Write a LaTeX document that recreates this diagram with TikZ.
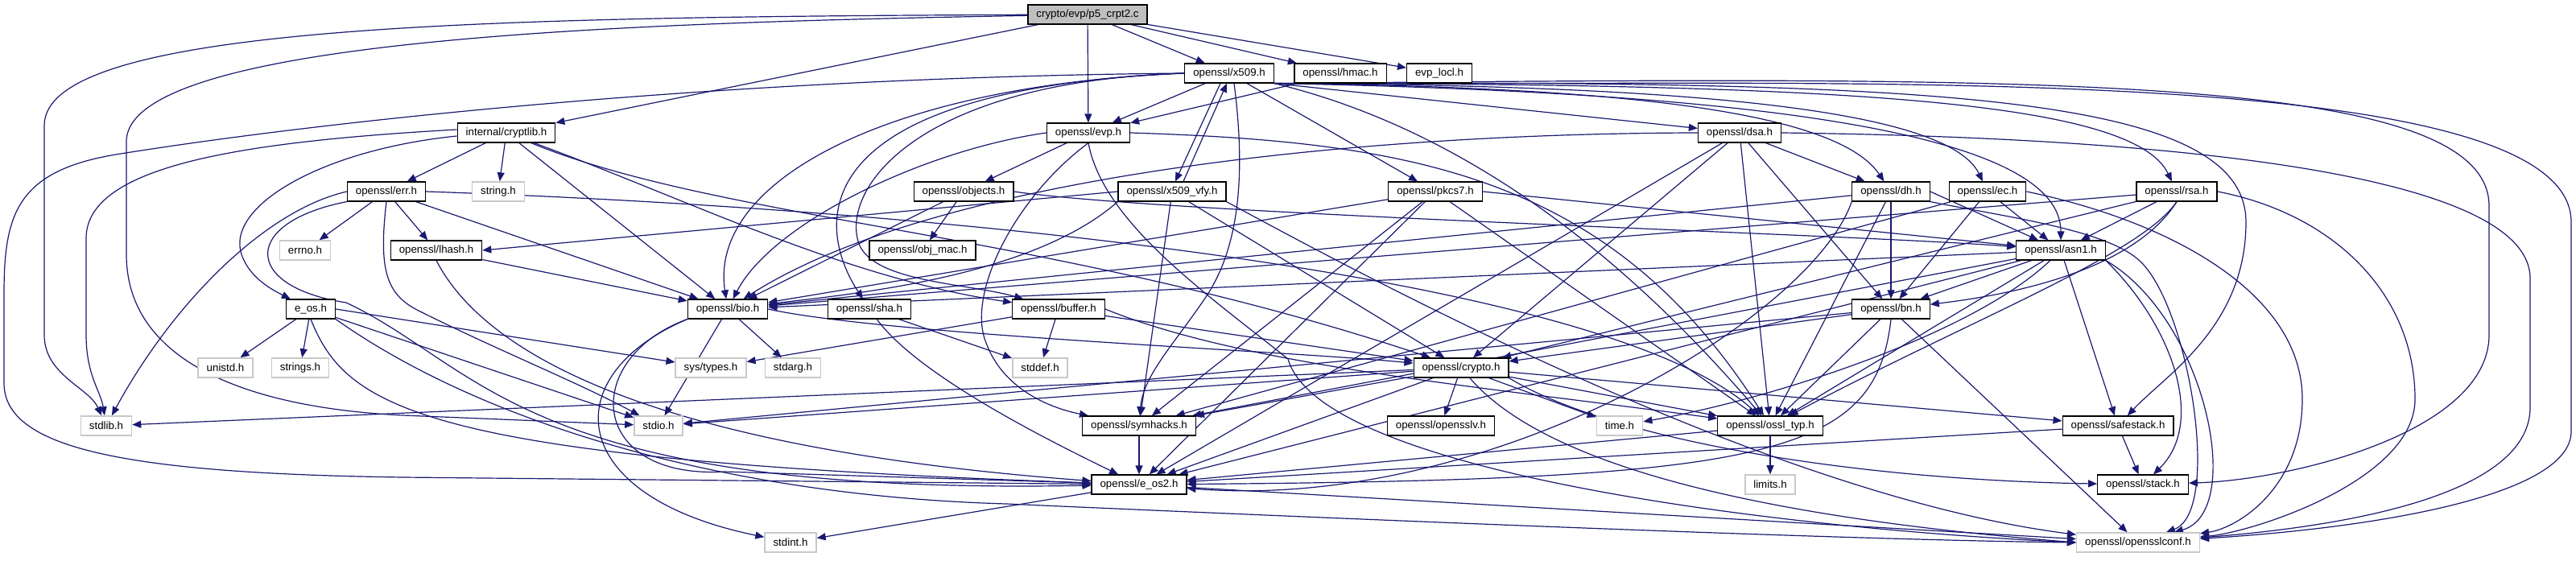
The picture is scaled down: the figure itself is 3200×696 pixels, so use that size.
\documentclass[tikz,border=0pt]{standalone}
\usepackage{fontspec}
\setmainfont{Liberation Sans}
\usetikzlibrary{arrows.meta}
\definecolor{edgeblue}{RGB}{25,25,112}
\definecolor{boxgray}{RGB}{191,191,191}
\definecolor{sysgray}{RGB}{200,200,200}
\pgfdeclarelayer{bg}
\pgfsetlayers{bg,main}
\tikzset{
  hdr/.style={draw=black,line width=1.2pt,fill=white,rectangle,minimum height=24pt,inner xsep=10.5pt,inner ysep=0pt,font=\fontsize{13.3}{16}\selectfont},
  syshdr/.style={hdr,draw=sysgray,line width=1.5pt},
  srcfile/.style={hdr,fill=boxgray},
  dep/.style={draw=edgeblue,line width=1.2pt,-{Triangle[length=11pt,width=9pt]}}
}
\begin{document}
\begin{tikzpicture}[x=1pt,y=1pt]
\useasboundingbox (0,0) rectangle (3200,696);
\node[srcfile] (p5) at (1351,678) {crypto/evp/p5\_crpt2.c};
\node[hdr] (x509) at (1527,605) {openssl/x509.h};
\node[hdr] (hmac) at (1665,605) {openssl/hmac.h};
\node[hdr] (evplocl) at (1788,605) {evp\_locl.h};
\node[hdr] (cryptlib) at (629,531) {internal/cryptlib.h};
\node[hdr] (evp) at (1352,531) {openssl/evp.h};
\node[hdr] (dsa) at (2161,531) {openssl/dsa.h};
\node[hdr] (err) at (480,458) {openssl/err.h};
\node[syshdr] (stringh) at (619,458) {string.h};
\node[hdr] (objects) at (1197,458) {openssl/objects.h};
\node[hdr] (x509vfy) at (1456,458) {openssl/x509\_vfy.h};
\node[hdr] (pkcs7) at (1783,458) {openssl/pkcs7.h};
\node[hdr] (dh) at (2349,458) {openssl/dh.h};
\node[hdr] (ec) at (2469,458) {openssl/ec.h};
\node[hdr] (rsa) at (2704,458) {openssl/rsa.h};
\node[syshdr] (errno) at (379,385) {errno.h};
\node[hdr] (lhash) at (542,385) {openssl/lhash.h};
\node[hdr] (objmac) at (1146,385) {openssl/obj\_mac.h};
\node[hdr] (asn1) at (2560,385) {openssl/asn1.h};
\node[hdr] (eos) at (386,312) {e\_os.h};
\node[hdr] (bio) at (904,312) {openssl/bio.h};
\node[hdr] (sha) at (1080,312) {openssl/sha.h};
\node[hdr] (buffer) at (1315,312) {openssl/buffer.h};
\node[hdr] (bn) at (2349,312) {openssl/bn.h};
\node[syshdr] (unistd) at (280,239) {unistd.h};
\node[syshdr] (strings) at (373,239) {strings.h};
\node[syshdr] (systypes) at (883,239) {sys/types.h};
\node[syshdr] (stdarg) at (985,239) {stdarg.h};
\node[syshdr] (stddef) at (1292,239) {stddef.h};
\node[hdr] (crypto) at (1815,239) {openssl/crypto.h};
\node[syshdr] (stdlib) at (132,167) {stdlib.h};
\node[syshdr] (stdio) at (818,167) {stdio.h};
\node[hdr] (symhacks) at (1415,167) {openssl/symhacks.h};
\node[hdr] (opensslv) at (1790,167) {openssl/opensslv.h};
\node[syshdr] (timeh) at (2012,167) {time.h};
\node[hdr] (ossltyp) at (2199,167) {openssl/ossl\_typ.h};
\node[hdr] (safestack) at (2631,167) {openssl/safestack.h};
\node[hdr] (eos2) at (1415,94) {openssl/e\_os2.h};
\node[syshdr] (limits) at (2199,94) {limits.h};
\node[hdr] (stack) at (2662,94) {openssl/stack.h};
\node[syshdr] (stdint) at (982,22) {stdint.h};
\node[syshdr] (conf) at (2656,22) {openssl/opensslconf.h};
\begin{pgfonlayer}{bg}
\draw[dep] (p5) -- (x509);
\draw[dep] (p5) -- (hmac);
\draw[dep] (p5) -- (evplocl);
\draw[dep] (p5) -- (evp);
\draw[dep] (p5) -- (cryptlib);
\draw[dep] (p5) .. controls (600,675) and (55,665) .. (55,540) -- (55,280) .. controls (55,230) and (110,215) .. (stdlib);
\draw[dep] (p5) .. controls (800,668) and (157,650) .. (157,520) -- (157,380) .. controls (157,250) and (300,190) .. (500,180) -- (stdio);
\draw[dep] (hmac) -- (evp);
\draw[dep] (hmac.south east) .. controls (2300,590) and (3194,620) .. (3194,420) -- (3194,160) .. controls (3194,80) and (2950,40) .. (conf);
\draw[dep] (x509) -- (evp);
\draw[dep] ([xshift=-11pt]x509.south) -- ([xshift=4pt]x509vfy.north);
\draw[dep] ([xshift=14pt]x509vfy.north) -- ([xshift=-3pt]x509.south);
\draw[dep] (x509.south east) -- (dsa);
\draw[dep] (x509) -- (pkcs7);
\draw[dep] (x509.south east) .. controls (2000,588) and (2280,560) .. (dh);
\draw[dep] (x509.south east) .. controls (2100,590) and (2420,560) .. (ec);
\draw[dep] (x509.south east) .. controls (2300,592) and (2650,570) .. (rsa);
\draw[dep] (x509.south east) .. controls (2250,580) and (2560,520) .. (asn1);
\draw[dep] (x509.south east) .. controls (2400,596) and (2790,580) .. (2790,420) .. controls (2790,290) and (2690,230) .. (safestack);
\draw[dep] (x509.south east) .. controls (2500,600) and (3092,610) .. (3092,440) -- (3092,280) .. controls (3092,160) and (2850,100) .. (stack);
\draw[dep] (x509.west) .. controls (1100,590) and (880,470) .. (bio);
\draw[dep] (x509.west) .. controls (1000,585) and (1010,420) .. (sha);
\draw[dep] (x509.west) .. controls (1150,595) and (1050,470) .. (1065,400) .. controls (1075,345) and (1200,345) .. (buffer);
\draw[dep] ([xshift=6pt]x509.south) .. controls (1545,500) and (1545,400) .. (1500,330) .. controls (1460,270) and (1420,230) .. (symhacks);
\draw[dep] (x509.south east) .. controls (1800,540) and (2000,400) .. (ossltyp);
\draw[dep] (x509.west) .. controls (900,600) and (400,545) .. (150,505) .. controls (20,485) and (5,430) .. (5,330) -- (5,220) .. controls (5,140) and (150,108) .. (500,103) -- (eos2);
\draw[dep] (evp) -- (objects);
\draw[dep] (evp.west) .. controls (1150,510) and (960,420) .. (bio);
\draw[dep] (evp.south) .. controls (1260,450) and (1200,330) .. (1225,270) .. controls (1245,215) and (1300,190) .. (symhacks);
\draw[dep] (evp.east) .. controls (1750,520) and (2000,480) .. (ossltyp);
\draw[dep] (evp.south) .. controls (1370,420) and (1500,330) .. (1600,250) .. controls (1640,110) and (2200,40) .. (conf.west);
\draw[dep] ([yshift=4pt]cryptlib.west) .. controls (300,520) and (107,490) .. (107,400) -- (107,280) .. controls (107,230) and (125,210) .. (stdlib);
\draw[dep] ([yshift=-4pt]cryptlib.west) .. controls (400,510) and (280,440) .. (300,380) .. controls (310,350) and (340,335) .. (eos);
\draw[dep] (cryptlib) -- (err);
\draw[dep] (cryptlib) -- (stringh);
\draw[dep] (cryptlib) -- (bio);
\draw[dep] (cryptlib) .. controls (900,420) and (1300,410) .. (crypto);
\draw[dep] (cryptlib) .. controls (850,450) and (1050,350) .. (buffer);
\draw[dep] (err.west) .. controls (330,435) and (215,320) .. (stdlib);
\draw[dep] (err.south west) .. controls (300,420) and (300,340) .. (430,320) .. controls (600,240) and (650,80) .. (eos2);
\draw[dep] (err.south) .. controls (470,360) and (480,330) .. (520,310) .. controls (620,260) and (720,220) .. (stdio);
\draw[dep] (err) -- (errno);
\draw[dep] (err) -- (lhash);
\draw[dep] (err) -- (bio);
\draw[dep] (err.east) .. controls (1200,435) and (2000,350) .. (ossltyp);
\draw[dep] (objects) -- (objmac);
\draw[dep] (objects) -- (bio);
\draw[dep] (objects.east) .. controls (1450,430) and (2300,405) .. (asn1);
\draw[dep] (x509vfy.west) -- (lhash.east);
\draw[dep] (x509vfy.south west) .. controls (1280,350) and (1050,330) .. (bio);
\draw[dep] (x509vfy) -- (symhacks);
\draw[dep] (x509vfy) -- (crypto);
\draw[dep] (x509vfy.south east) .. controls (1700,350) and (2200,80) .. (conf);
\draw[dep] (pkcs7) -- (bio);
\draw[dep] (pkcs7) -- (eos2);
\draw[dep] (pkcs7) -- (symhacks);
\draw[dep] (pkcs7) -- (ossltyp);
\draw[dep] (pkcs7.east) -- (asn1);
\draw[dep] (dsa.west) .. controls (1650,530) and (1150,470) .. (bio);
\draw[dep] (dsa) -- (eos2);
\draw[dep] (dsa) -- (crypto);
\draw[dep] (dsa) -- (ossltyp);
\draw[dep] (dsa) -- (bn);
\draw[dep] (dsa) -- (dh);
\draw[dep] (dsa.east) .. controls (2700,525) and (3143,480) .. (3143,350) -- (3143,190) .. controls (3143,90) and (2950,45) .. (conf);
\draw[dep] (dh) -- (bio);
\draw[dep] (dh.south west) .. controls (2250,300) and (1850,60) .. (eos2);
\draw[dep] (dh) -- (ossltyp);
\draw[dep] (dh) -- (bn);
\draw[dep] (dh.east) -- (asn1);
\draw[dep] (dh.south east) .. controls (2500,425) and (2620,410) .. (2660,370) .. controls (2720,310) and (2760,60) .. (conf);
\draw[dep] (ec) -- (symhacks);
\draw[dep] (ec) -- (bn);
\draw[dep] (ec) -- (asn1);
\draw[dep] (ec.east) .. controls (2700,420) and (2860,330) .. (2860,200) .. controls (2860,90) and (2780,40) .. (conf);
\draw[dep] (rsa) -- (bio);
\draw[dep] (rsa) -- (asn1);
\draw[dep] (rsa) -- (crypto);
\draw[dep] (rsa.south) .. controls (2660,380) and (2450,300) .. (ossltyp);
\draw[dep] (rsa.south) .. controls (2650,360) and (2500,330) .. (bn);
\draw[dep] (rsa.east) .. controls (2900,430) and (3000,330) .. (3000,200) .. controls (3000,100) and (2800,35) .. (conf);
\draw[dep] (lhash) -- (bio);
\draw[dep] (lhash.south) .. controls (600,260) and (800,140) .. (eos2);
\draw[dep] (asn1) -- (bio);
\draw[dep] (asn1) .. controls (2450,280) and (2200,200) .. (timeh);
\draw[dep] (asn1) -- (eos2);
\draw[dep] (asn1.south east) .. controls (2740,300) and (2790,60) .. (conf);
\draw[dep] (asn1) -- (safestack);
\draw[dep] (asn1) -- (symhacks);
\draw[dep] (asn1) -- (ossltyp);
\draw[dep] (asn1) -- (bn);
\draw[dep] (asn1.south east) .. controls (2700,290) and (2740,170) .. (stack);
\draw[dep] (eos) -- (unistd);
\draw[dep] (eos) -- (strings);
\draw[dep] (eos.east) -- (systypes);
\draw[dep] (eos) -- (stdio);
\draw[dep] (eos.south) .. controls (430,190) and (520,125) .. (eos2);
\draw[dep] (eos.south east) .. controls (600,170) and (900,80) .. (1250,70) .. controls (1700,50) and (2300,25) .. (conf.west);
\draw[dep] (bio.south west) .. controls (720,250) and (730,100) .. (900,110) -- (eos2);
\draw[dep] (bio.south west) .. controls (690,230) and (700,80) .. (stdint);
\draw[dep] (bio) -- (stdio);
\draw[dep] (bio) -- (stdarg);
\draw[dep] (bio.east) .. controls (1100,280) and (1600,260) .. (crypto);
\draw[dep] (sha) .. controls (1140,230) and (1300,150) .. (eos2);
\draw[dep] (sha) -- (stddef);
\draw[dep] (buffer) -- (systypes);
\draw[dep] (buffer) -- (stddef);
\draw[dep] (buffer) -- (crypto);
\draw[dep] (buffer.east) .. controls (1550,240) and (1850,215) .. (ossltyp);
\draw[dep] (bn.south) .. controls (2330,130) and (2200,100) .. (eos2);
\draw[dep] (bn) -- (stdio);
\draw[dep] (bn) -- (conf);
\draw[dep] (bn) -- (ossltyp);
\draw[dep] (bn) -- (crypto);
\draw[dep] (crypto) -- (stdlib);
\draw[dep] (crypto) -- (timeh);
\draw[dep] (crypto) -- (eos2);
\draw[dep] (crypto) -- (stdio);
\draw[dep] (crypto.south east) .. controls (2000,150) and (2300,100) .. (stack);
\draw[dep] (crypto) -- (safestack);
\draw[dep] (crypto) -- (opensslv);
\draw[dep] (crypto) -- (ossltyp);
\draw[dep] (crypto) .. controls (1900,140) and (2100,60) .. (conf.west);
\draw[dep] (crypto) -- (symhacks);
\draw[dep] (symhacks) -- (eos2);
\draw[dep] (ossltyp) -- (limits);
\draw[dep] (ossltyp) -- (eos2);
\draw[dep] (safestack) -- (stack);
\draw[dep] (safestack) -- (eos2);
\draw[dep] (eos2) -- (conf);
\draw[dep] (eos2) -- (stdint);
\end{pgfonlayer}
\end{tikzpicture}
\end{document}
